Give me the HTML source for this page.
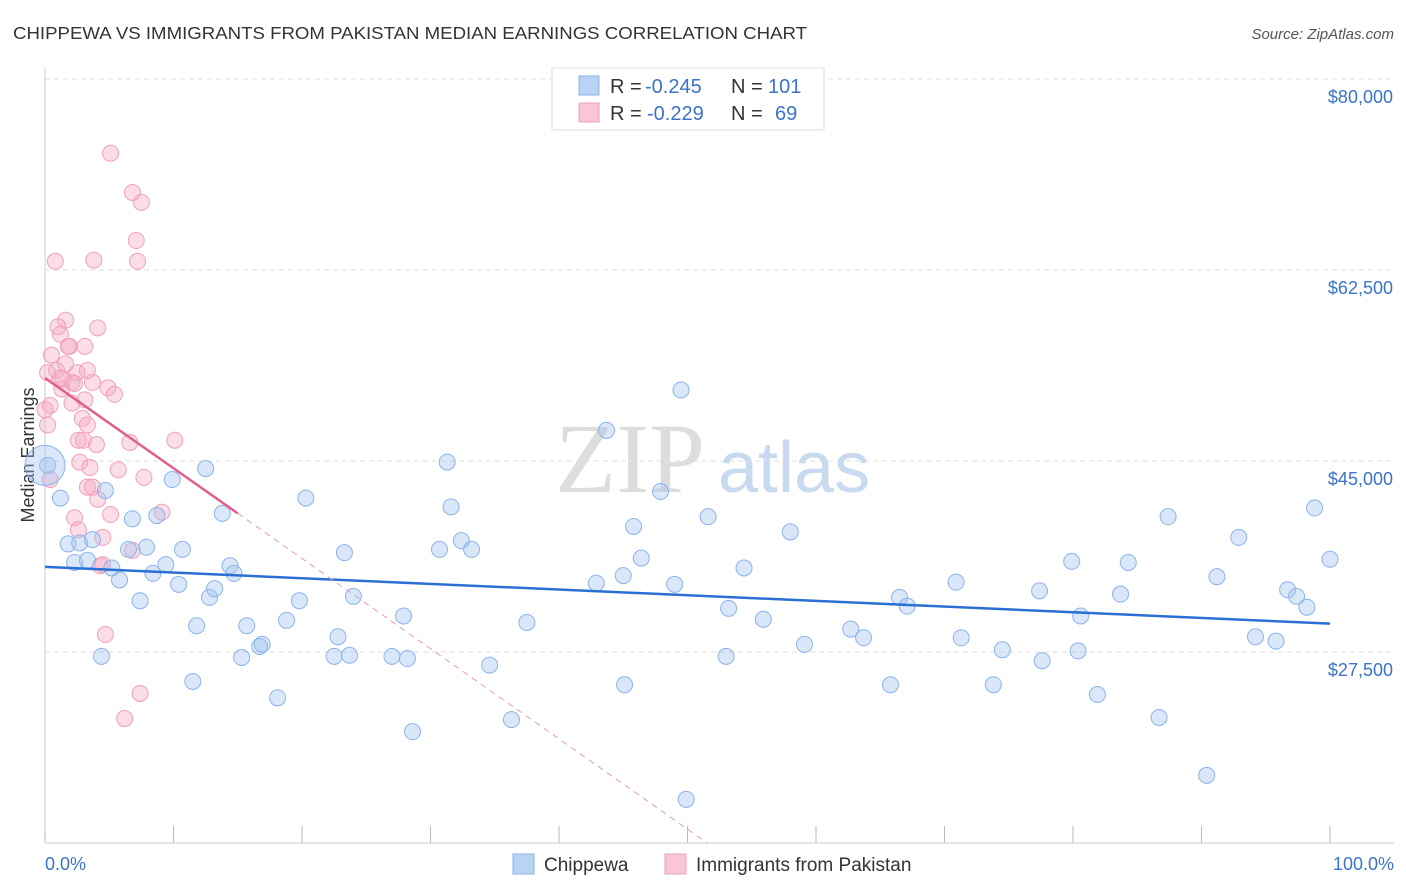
<!DOCTYPE html>
<html><head><meta charset="utf-8"><style>
body{margin:0;background:#fff;font-family:"Liberation Sans",sans-serif;}
#wrap{position:relative;width:1406px;height:892px;overflow:hidden;}
</style></head><body><div id="wrap">
<svg id="svg" width="1406" height="892" xmlns="http://www.w3.org/2000/svg">
<text x="13" y="39" font-size="17.5" fill="#333" textLength="794" lengthAdjust="spacingAndGlyphs">CHIPPEWA VS IMMIGRANTS FROM PAKISTAN MEDIAN EARNINGS CORRELATION CHART</text>
<text x="1394" y="39" font-size="15" fill="#555" font-style="italic" text-anchor="end">Source: ZipAtlas.com</text>
<text x="555" y="492" font-size="100" fill="#ddd" font-family="Liberation Serif">ZIP</text>
<text x="718" y="492" font-size="72" fill="#c8daf0">atlas</text>
<text transform="translate(34,455) rotate(-90)" font-size="18" fill="#333" text-anchor="middle">Median Earnings</text>
<g id="grid"></g><g id="pts"></g><g id="trend"></g>
<g>
<rect x="552" y="68" width="272" height="62" fill="#fff" stroke="#ddd"/>
<rect x="579" y="76" width="20" height="19" fill="#b8d4f5" stroke="#8ab4e8"/>
<rect x="579" y="103" width="20" height="19" fill="#f9c6d6" stroke="#f0a0bc"/>
<text x="610" y="93" font-size="20" fill="#333">R =</text>
<text x="645" y="93" font-size="20" fill="#3b73c9">-0.245</text>
<text x="731" y="93" font-size="20" fill="#333">N =</text>
<text x="768" y="93" font-size="20" fill="#3b73c9">101</text>
<text x="610" y="120" font-size="20" fill="#333">R =</text>
<text x="647" y="120" font-size="20" fill="#3b73c9">-0.229</text>
<text x="731" y="120" font-size="20" fill="#333">N =</text>
<text x="775" y="120" font-size="20" fill="#3b73c9">69</text>
</g>
<g>
<rect x="513" y="854" width="21" height="20" fill="#b8d4f5" stroke="#8ab4e8"/>
<text x="544" y="871" font-size="19" fill="#333">Chippewa</text>
<rect x="665" y="854" width="21" height="20" fill="#f9c6d6" stroke="#f0a0bc"/>
<text x="696" y="871" font-size="19" fill="#333">Immigrants from Pakistan</text>
</g>
<text x="45" y="870" font-size="18" fill="#3b73c9">0.0%</text>
<text x="1394" y="870" font-size="18" fill="#3b73c9" text-anchor="end">100.0%</text>
</svg></div>
<script>
const yTicks=[80000,62500,45000,27500];
const yTickLabels=["$80,000","$62,500","$45,000","$27,500"];
const xTicks=[0,10,20,30,40,50,60,70,80,90,100];
const blueX=[0.2,1.2,1.8,2.3,2.7,3.3,3.7,4.4,4.7,5.2,5.8,6.5,6.8,7.4,7.9,8.4,8.7,9.4,9.9,10.4,10.7,11.5,11.8,12.5,12.8,13.2,13.8,14.4,14.7,15.3,15.7,16.7,16.9,18.1,18.8,19.8,20.3,22.5,22.8,23.3,23.7,24.0,27.0,27.9,28.2,28.6,30.7,31.3,31.6,32.4,33.2,34.6,36.3,37.5,42.9,43.7,45.0,45.1,45.8,46.4,47.9,49.0,49.5,49.9,51.6,53.0,53.2,54.4,55.9,58.0,59.1,62.7,63.7,65.8,66.5,67.1,70.9,71.3,73.8,74.5,77.4,77.6,79.9,80.4,80.6,81.9,83.7,84.3,86.7,87.4,90.4,91.2,92.9,94.2,95.8,96.7,97.4,98.2,98.8,100];
const blueY=[44.6,41.6,37.4,35.7,37.5,35.9,37.8,27.1,42.3,35.2,34.1,36.9,39.7,32.2,37.1,34.7,40.0,35.5,43.3,33.7,36.9,24.8,29.9,44.3,32.5,33.3,40.2,35.4,34.7,27.0,29.9,28.0,28.2,23.3,30.4,32.2,41.6,27.1,28.9,36.6,27.2,32.6,27.1,30.8,26.9,20.2,36.9,44.9,40.8,37.7,36.9,26.3,21.3,30.2,33.8,47.8,34.5,24.5,39.0,36.1,42.2,33.7,51.5,14.0,39.9,27.1,31.5,35.2,30.5,38.5,28.2,29.6,28.8,24.5,32.5,31.7,33.9,28.8,24.5,27.7,33.1,26.7,35.8,27.6,30.8,23.6,32.8,35.7,21.5,39.9,16.2,34.4,38.0,28.9,28.5,33.2,32.6,31.6,40.7,36.0];
const pinkX=[5.1,6.8,7.5,7.1,7.2,0.8,3.8,1.6,4.1,1.0,1.2,0.5,1.9,3.1,1.8,0.2,0.9,1.4,2.1,2.5,3.3,1.3,2.3,3.7,4.9,5.4,0.4,2.1,2.9,0.2,3.3,2.6,3.0,4.0,6.6,10.1,2.7,3.5,5.7,7.7,3.3,3.7,4.1,9.1,5.1,2.3,2.6,4.5,6.8,4.3,4.5,4.7,7.4,6.2,0,0.4,1.6,3.1,1.2];
const pinkY=[73.2,69.6,68.7,65.2,63.3,63.3,63.4,57.9,57.2,57.3,56.6,54.7,55.5,55.5,55.5,53.1,53.3,52.5,52.2,53.1,53.3,51.6,52.1,52.2,51.7,51.1,50.1,50.3,48.9,48.3,48.3,46.9,46.9,46.5,46.7,46.9,44.9,44.4,44.2,43.5,42.6,42.6,41.5,40.3,40.1,39.8,38.7,38.0,36.8,35.4,35.5,29.1,23.7,21.4,49.7,43.3,53.9,50.6,52.6];
const blueTrend=[35.3,30.1];
const pinkTrend=[52.6,40.2];
const pinkTrendEnd=15;
const NS="http://www.w3.org/2000/svg";
const X=v=>45+v*12.85;
const Y=k=>79+(80-k)*10.914;
const Yd=d=>Y(d/1000);
function mk(t,a,p){const e=document.createElementNS(NS,t);for(const k in a)e.setAttribute(k,a[k]);p.appendChild(e);return e;}
const grid=document.getElementById('grid');
yTicks.forEach((t,i)=>{
 const l=mk('line',{x1:45,x2:1394,y1:Yd(t),y2:Yd(t),stroke:'#ddd','stroke-dasharray':'5,4'},grid);
 
 
 const tx=mk('text',{x:1393,y:Yd(t)+24,'font-size':18,fill:'#3b73c9','text-anchor':'end'},grid);
 tx.textContent=yTickLabels[i];
 
 
});
const ax=mk('line',{x1:45,x2:45,y1:68,y2:843,stroke:'#ccc'},grid);


const bx=mk('line',{x1:45,x2:1394,y1:843,y2:843,stroke:'#ccc'},grid);


xTicks.forEach(t=>{const l=mk('line',{x1:X(t),x2:X(t),y1:826,y2:843,stroke:'#bbb'},grid);
 
 });
const pts=document.getElementById('pts');
pinkX.forEach((x,i)=>{const c=mk('circle',{cx:X(x),cy:Y(pinkY[i]),r:8,fill:'rgba(245,170,195,0.4)',stroke:'#f0a0bc','stroke-width':1},pts);
 
 });
blueX.forEach((x,i)=>{const c=mk('circle',{cx:X(x),cy:Y(blueY[i]),r:8,fill:'rgba(160,196,240,0.4)',stroke:'#8ab4e8','stroke-width':1},pts);
 
 });
const big=mk('circle',{cx:X(0),cy:Y(44.6),r:20,fill:'rgba(160,196,240,0.4)',stroke:'#8ab4e8'},pts);


const tr=document.getElementById('trend');
const bt=mk('line',{x1:X(0),y1:Y(blueTrend[0]),x2:X(100),y2:Y(blueTrend[1]),stroke:'#2a6fd4','stroke-width':2.5},tr);


const slope=(pinkTrend[1]-pinkTrend[0])/pinkTrendEnd;
const xEnd=(10-pinkTrend[0])/slope;
const pd=mk('line',{x1:X(pinkTrendEnd),y1:Y(pinkTrend[1]),x2:X(xEnd),y2:Y(10),stroke:'#e898b4','stroke-width':1,'stroke-dasharray':'6,5'},tr);


const pt=mk('line',{x1:X(0),y1:Y(pinkTrend[0]),x2:X(pinkTrendEnd),y2:Y(pinkTrend[1]),stroke:'#e0608c','stroke-width':2.5},tr);


</script></body></html>
